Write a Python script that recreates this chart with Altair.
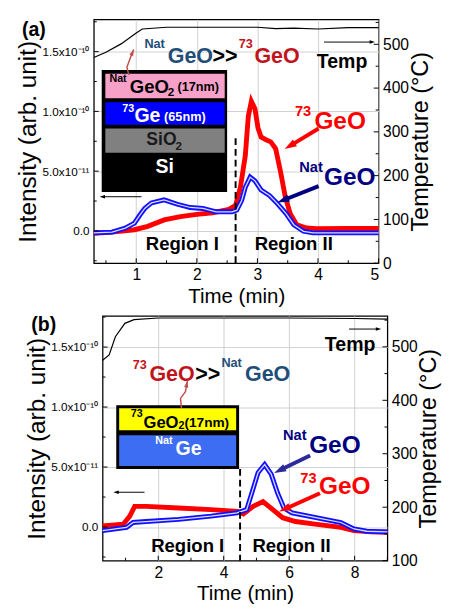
import math
import altair as alt
import pandas as pd

FONT = "Liberation Sans"
RED = "#ff0000"
BLUE = "#1010ff"
NAVY = "#000080"
DRED = "#c0141c"
SBLUE = "#1f4e79"

# ---------------- panel (a) data (intensity in units of 1e-11) ----------------
a_red_t = [0.3, 0.6, 0.97, 1.19, 1.46, 1.73, 2.0, 2.26, 2.53, 2.64, 2.72, 2.8, 2.85, 2.9, 2.96,
           3.01, 3.06, 3.15, 3.22, 3.3, 3.38, 3.46, 3.54, 3.65, 3.81, 3.97, 4.5, 5.0]
a_red_v = [-0.2, -0.1, 0.1, 0.38, 0.92, 1.2, 1.39, 1.52, 1.8, 2.15, 3.67, 6.3, 9.6, 10.85, 10.2,
           8.6, 7.86, 7.6, 7.45, 6.9, 5.0, 2.85, 1.47, 0.5, 0.24, 0.19, 0.2, 0.2]
a_blue_t = [0.3, 0.6, 0.82, 0.97, 1.06, 1.14, 1.25, 1.46, 1.68, 1.89, 2.1, 2.32, 2.58, 2.66, 2.74,
            2.8, 2.88, 2.96, 3.06, 3.2, 3.33, 3.47, 3.6, 3.76, 3.92, 4.5, 5.0]
a_blue_v = [-0.16, -0.1, 0.24, 0.65, 1.33, 1.88, 2.34, 2.6, 2.23, 1.96, 1.88, 1.6, 1.6, 1.74, 2.55,
            3.65, 4.5, 4.19, 3.43, 2.96, 2.28, 1.47, 0.52, -0.03, -0.16, -0.16, -0.16]
a_temp_t = [0.3, 0.5, 0.75, 1.0, 1.1, 1.5, 2.0, 3.0, 3.3, 3.6, 4.0, 4.5, 5.0]
a_temp_v = [470, 482, 501, 526, 535, 539, 539, 539, 536, 537, 535, 538, 538]

# ---------------- panel (b) data ----------------
b_red_t = [0.3, 0.93, 1.13, 1.28, 1.63, 2.62, 3.61, 4.41, 4.6, 4.9, 5.2, 5.5, 5.8, 6.19, 6.79,
           7.58, 7.98, 8.5, 9.0]
b_red_v = [0.1, 0.24, 0.91, 1.72, 1.72, 1.59, 1.45, 1.31, 1.1, 1.72, 2.12, 1.45, 0.78, 0.46, 0.24,
           -0.03, -0.3, -0.4, -0.43]
b_blue_t = [0.3, 1.03, 1.23, 1.63, 2.62, 3.61, 4.41, 4.7, 4.9, 5.05, 5.25, 5.45, 5.65, 5.84, 6.09,
            6.59, 7.09, 7.58, 7.98, 8.37, 9.0]
b_blue_v = [-0.3, -0.03, 0.38, 0.46, 0.64, 0.91, 1.18, 1.45, 3.2, 4.54, 5.21, 4.41, 2.8, 1.59, 1.18,
            0.91, 0.64, 0.38, -0.16, -0.35, -0.4]
b_temp_t = [0.3, 0.5, 0.69, 0.98, 1.26, 2.0, 4.0, 6.0, 8.0, 9.0]
b_temp_v = [475, 485, 519, 544, 551, 554, 554, 554, 553, 552]

# ---------------- tick values ----------------
a_x_major = [1, 2, 3, 4, 5]
a_x_minor = [0.5, 1.5, 2.5, 3.5, 4.5]
b_x_major = [2, 4, 6, 8]
b_x_minor = [1, 3, 5, 7, 9]
y_major = [0, 5, 10, 15]
y_minor = [-2.5, 2.5, 7.5, 12.5, 17.5]
a_T_major = [0, 100, 200, 300, 400, 500]
b_T_major = [100, 200, 300, 400, 500]
a_T_minor = [50, 150, 250, 350, 450, 550]
b_T_minor = [150, 250, 350, 450, 550]

# ---------------- annotations ----------------
# inset layer boxes: t1, t2, v1, v2, colour
a_box = [(0.43, 2.50, 3.26, 13.46, "black"),
         (0.49, 2.46, 11.10, 13.14, "#f7a1c9"),
         (0.49, 2.46, 8.89, 10.77, "#0000ff"),
         (0.49, 2.46, 6.53, 8.57, "#808080")]
b_box = [(0.717, 4.47, 4.84, 10.16, "black"),
         (0.806, 4.38, 8.06, 9.91, "#ffff00"),
         (0.806, 4.38, 5.08, 7.66, "#3d6df2")]

# left-aligned texts: text, t, v, colour, size
a_txt_l = [("Nat", 1.135, 15.6, SBLUE, 13), ("GeO", 1.52, 14.6, SBLUE, 22), (">>", 2.26, 14.6, "black", 22),
           ("73", 2.69, 15.6, DRED, 13), ("GeO", 2.95, 14.6, DRED, 22),
           ("Temp", 3.98, 14.1, "black", 20),
           ("73", 3.62, 10.0, RED, 15), ("GeO", 3.94, 9.2, RED, 25),
           ("Nat", 3.69, 5.3, NAVY, 15), ("GeO", 4.10, 4.5, NAVY, 25),
           ("Nat", 0.557, 12.7, "black", 11), ("GeO", 0.894, 12.0, "black", 19),
           ("2", 1.52, 11.6, "black", 12), ("(17nm)", 1.68, 12.0, "black", 13),
           ("73", 0.77, 10.2, "white", 11), ("Ge", 0.97, 9.6, "white", 20), ("(65nm)", 1.46, 9.5, "white", 13),
           ("SiO", 1.167, 7.6, "#1a1a1a", 18), ("2", 1.65, 7.1, "#1a1a1a", 12)]
a_txt_c = [("(a)", -0.69, 16.8, "black", 20), ("Region I", 1.76, -1.14, "black", 19),
           ("Region II", 3.6, -1.14, "black", 19), ("Si", 1.47, 5.3, "white", 20)]
b_txt_l = [("73", 1.22, 13.5, DRED, 13), ("GeO", 1.73, 12.7, DRED, 22), (">>", 3.13, 12.7, "black", 22),
           ("Nat", 3.93, 13.7, SBLUE, 13), ("GeO", 4.65, 12.7, SBLUE, 22),
           ("Temp", 7.09, 15.15, "black", 20),
           ("Nat", 5.81, 7.66, NAVY, 15), ("GeO", 6.61, 6.85, NAVY, 25),
           ("73", 6.34, 4.11, RED, 15), ("GeO", 6.91, 3.39, RED, 25),
           ("73", 1.16, 9.43, "black", 11), ("GeO", 1.55, 8.7, "black", 17),
           ("2", 2.62, 8.4, "black", 11), ("(17nm)", 2.80, 8.7, "black", 14),
           ("Nat", 1.91, 7.17, "white", 11), ("Ge", 2.53, 6.53, "white", 20)]
b_txt_c = [("(b)", -1.5, 16.8, "black", 20), ("Region I", 2.9, -1.6, "black", 19),
           ("Region II", 6.07, -1.6, "black", 19)]

# straight arrows: t1, v1, t2 (tip), v2 (tip), colour, width, head size
a_arrows = [(4.01, 8.57, 3.45, 6.85, RED, 4, 150),
            (4.01, 3.75, 3.33, 2.37, NAVY, 4, 150),
            (1.087, 2.86, 0.396, 2.86, "black", 1, 30),
            (4.10, 15.8, 4.94, 15.8, "black", 1, 30)]
b_arrows = [(6.94, 2.82, 5.69, 1.29, RED, 4, 150),
            (6.64, 5.96, 5.54, 4.51, "#2b2b9a", 4, 150),
            (1.58, 2.9, 0.63, 2.9, "black", 1, 30),
            (7.83, 16.5, 8.81, 16.5, "black", 1, 30)]
# curved arrows from inset to headline
a_curve_t = [0.878, 0.846, 0.894, 0.958]
a_curve_v = [13.06, 13.7, 14.36, 15.18]
b_curve_t = [2.71, 2.68, 2.83, 2.89]
b_curve_v = [9.91, 10.72, 11.28, 12.17]
# dashed divider: t, v top
a_div = (2.64, 7.75)
b_div = (4.5, 4.84)

LBL = ("datum.value == 0 ? '0.0' : datum.value == 5 ? '5.0x10\u207b\u00b9\u00b9' : "
       "datum.value == 10 ? '1.0x10\u207b\u00b9\u2070' : '1.5x10\u207b\u00b9\u2070'")
HEAD = "M0,0L0.65,2L-0.65,2Z"


def build(W, H, xdom, xmaj, xmin, ydom, tdom, tmaj, tmin, red_t, red_v, blue_t, blue_v, temp_t, temp_v,
          box, txt_l, txt_c, arrows, curve_t, curve_v, div):
    X = alt.X("t:Q", scale=alt.Scale(domain=xdom, nice=False, zero=False),
              axis=alt.Axis(values=xmaj, format="d", grid=True, gridColor="#d0d0d0", ticks=False,
                            domain=False, labelFontSize=16, labelPadding=4, title="Time (min)",
                            titleFontSize=21, titleFontWeight="normal", titlePadding=3))
    Y = alt.Y("v:Q", scale=alt.Scale(domain=ydom, nice=False, zero=False),
              axis=alt.Axis(values=y_major, labelExpr=LBL, grid=True, gridColor="#d0d0d0",
                            ticks=False, domain=False, labelFontSize=12, labelPadding=5,
                            title="Intensity (arb. unit)", titleFontSize=25, titleFontWeight="normal",
                            titlePadding=2))
    TY = alt.Y("T:Q", scale=alt.Scale(domain=tdom, nice=False, zero=False),
               axis=alt.Axis(orient="right", values=tmaj, grid=False, ticks=False, domain=False,
                             labelFontSize=16, labelPadding=4, title="Temperature (\u00b0C)",
                             titleFontSize=24, titleFontWeight="normal", titleAngle=270,
                             titleBaseline="top", titlePadding=0))
    ppx = W / (xdom[1] - xdom[0])
    ppy = H / (ydom[1] - ydom[0])

    red = alt.Chart(pd.DataFrame({"t": red_t, "v": red_v})).mark_line(
        color=RED, strokeWidth=5).encode(x=X, y=Y)
    bdf = pd.DataFrame({"t": blue_t, "v": blue_v})
    blue = alt.Chart(bdf).mark_line(color=BLUE, strokeWidth=5).encode(x=X, y=Y)
    blue_in = alt.Chart(bdf).mark_line(color="white", strokeWidth=1.3, opacity=0.85).encode(x=X, y=Y)

    divider = alt.Chart(pd.DataFrame({"t": [div[0]], "v": [div[1]], "v2": [ydom[0]]})).mark_rule(
        color="black", strokeWidth=2, strokeDash=[7, 4]).encode(x=X, y=Y, y2=alt.Y2("v2:Q"))

    rects = alt.Chart(pd.DataFrame({"t": [b[0] for b in box], "t2": [b[1] for b in box],
                                    "v": [b[2] for b in box], "v2": [b[3] for b in box],
                                    "c": [b[4] for b in box], "i": list(range(len(box)))})).mark_rect().encode(
        x=X, x2=alt.X2("t2:Q"), y=Y, y2=alt.Y2("v2:Q"), color=alt.Color("c:N", scale=None),
        order=alt.Order("i:Q"))

    def texts(rows, align):
        df = pd.DataFrame({"s": [r[0] for r in rows], "t": [r[1] for r in rows], "v": [r[2] for r in rows],
                           "c": [r[3] for r in rows], "z": [r[4] for r in rows]})
        return alt.Chart(df).mark_text(align=align, baseline="middle", fontWeight="bold", font=FONT).encode(
            x=X, y=Y, text="s:N", color=alt.Color("c:N", scale=None), size=alt.Size("z:Q", scale=None))

    # inward tick marks
    def xticks(vals, L):
        return alt.Chart(pd.DataFrame({"t": vals})).mark_rule(color="black", strokeWidth=1).encode(
            x=X, y=alt.value(H), y2=alt.value(H - L))

    def yticks(vals, L):
        return alt.Chart(pd.DataFrame({"v": vals})).mark_rule(color="black", strokeWidth=1).encode(
            y=Y, x=alt.value(0), x2=alt.value(L))

    def tticks(vals, L):
        return alt.Chart(pd.DataFrame({"T": vals})).mark_rule(color="black", strokeWidth=1).encode(
            y=TY, x=alt.value(W), x2=alt.value(W - L))

    # arrows
    sx, sy, ex, ey, cc, ww, hx, hy, ha, hs, hc = [], [], [], [], [], [], [], [], [], [], []
    for (t1, v1, t2, v2, c, w, s) in arrows:
        dx = (t2 - t1) * ppx
        dy = (v2 - v1) * ppy
        L = math.hypot(dx, dy)
        hl = math.sqrt(s) * 0.8
        f = max(0.0, (L - hl) / L)
        sx.append(t1); sy.append(v1)
        ex.append(t1 + (t2 - t1) * f); ey.append(v1 + (v2 - v1) * f)
        cc.append(c); ww.append(w)
        hx.append(t2); hy.append(v2)
        ha.append(math.degrees(math.atan2(dx, dy)) % 360)
        hs.append(s); hc.append(c)
    dx = (curve_t[-1] - curve_t[-2]) * ppx
    dy = (curve_v[-1] - curve_v[-2]) * ppy
    hx.append(curve_t[-1]); hy.append(curve_v[-1])
    ha.append(math.degrees(math.atan2(dx, dy)) % 360)
    hs.append(45); hc.append("#c0504d")

    shafts = alt.Chart(pd.DataFrame({"t": sx, "v": sy, "t2": ex, "v2": ey, "c": cc, "w": ww})).mark_rule().encode(
        x=X, y=Y, x2=alt.X2("t2:Q"), y2=alt.Y2("v2:Q"), color=alt.Color("c:N", scale=None),
        strokeWidth=alt.StrokeWidth("w:Q", scale=None))
    heads = alt.Chart(pd.DataFrame({"t": hx, "v": hy, "a": ha, "s": hs, "c": hc})).mark_point(
        shape=HEAD, filled=True, opacity=1, strokeWidth=0).encode(
        x=X, y=Y, angle=alt.Angle("a:Q", scale=None), size=alt.Size("s:Q", scale=None),
        color=alt.Color("c:N", scale=None))
    curve = alt.Chart(pd.DataFrame({"t": curve_t, "v": curve_v, "i": list(range(len(curve_t)))})).mark_line(
        color="#c0504d", strokeWidth=1.5).encode(x=X, y=Y, order=alt.Order("i:Q"))

    left = alt.layer(red, blue, blue_in, divider, rects, texts(txt_l, "left"), texts(txt_c, "center"),
                     shafts, curve, heads, xticks(xmaj, 5), xticks(xmin, 3), yticks(y_major, 5),
                     yticks(y_minor, 3))
    temp = alt.Chart(pd.DataFrame({"t": temp_t, "T": temp_v})).mark_line(
        color="black", strokeWidth=1.2).encode(x=X, y=TY)
    right = alt.layer(temp, tticks(tmaj, 5), tticks(tmin, 3))
    return alt.layer(left, right).resolve_scale(y="independent").properties(width=W, height=H)


pa = build(292, 250, [0.3, 5.0], a_x_major, a_x_minor, [-2.7, 17.7], [0, 557], a_T_major, a_T_minor,
           a_red_t, a_red_v, a_blue_t, a_blue_v, a_temp_t, a_temp_v, a_box, a_txt_l, a_txt_c, a_arrows,
           a_curve_t, a_curve_v, a_div)
pb = build(292, 251, [0.3, 9.0], b_x_major, b_x_minor, [-2.8, 17.6], [100, 558], b_T_major, b_T_minor,
           b_red_t, b_red_v, b_blue_t, b_blue_v, b_temp_t, b_temp_v, b_box, b_txt_l, b_txt_c, b_arrows,
           b_curve_t, b_curve_v, b_div)


def spacer(w, h):
    return alt.Chart(pd.DataFrame({"t": [0]})).mark_point(opacity=0).properties(
        width=w, height=h, view=alt.ViewBackground(stroke=None))


chart = alt.vconcat(alt.hconcat(spacer(3, 250), pa, spacing=0),
                    alt.hconcat(spacer(14, 251), pb, spacing=0), spacing=8).properties(
    padding={"left": 0, "top": 3, "right": 0, "bottom": 0}
).configure_view(stroke="black", strokeWidth=1.3).configure_axis(
    labelFont=FONT, titleFont=FONT, labelColor="black", titleColor="black"
).configure_text(font=FONT)

chart.save("out.html", embed_options={"renderer": "svg", "actions": False})
